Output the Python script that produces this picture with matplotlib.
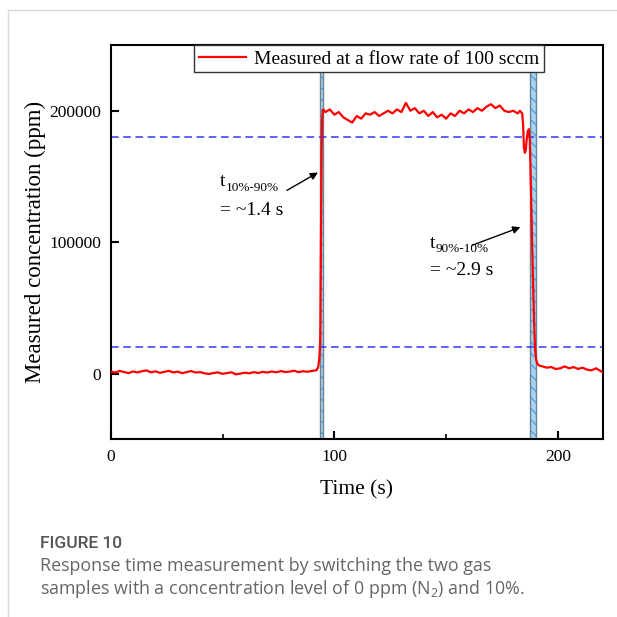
import matplotlib
matplotlib.use("Agg")
import matplotlib.pyplot as plt
from matplotlib.lines import Line2D
import numpy as np

# ---------------- data ----------------
base_t = [0, 2, 4, 6, 8, 10, 12, 14, 16, 18, 20, 22, 24, 26, 28, 30, 32, 34, 36, 38,
          40, 42, 44, 46, 48, 50, 52, 54, 56, 58, 60, 62, 64, 66, 68, 70, 72, 74, 76, 78,
          80, 82, 84, 86, 88, 90, 92]
base_c = [1500, 800, 2000, 1200, 400, 1600, 900, 1800, 2400, 1000, 1700, 600, 1300, 2100, 900,
          1500, 300, 1200, 1900, 800, 1100, 200, -300, 500, 900, -200, 400, 1000, -600, 0,
          700, 200, 1100, 500, 1300, 800, 1600, 1000, 1900, 1200, 1500, 2200, 1100, 1800,
          1400, 2000, 2500]
rise_t = [92.8, 93.3, 93.7, 94.0, 94.3, 94.6, 95.0]
rise_c = [5000, 12000, 25000, 100000, 170000, 195000, 201000]
plat_t = [96, 98, 100, 102, 104, 106, 108, 110, 112, 114, 116, 118, 120, 122, 124, 126, 128,
          130, 132, 134, 136, 138, 140, 142, 144, 146, 148, 150, 152, 154, 156, 158, 160,
          162, 164, 166, 168, 170, 172, 174, 176, 178, 180, 182, 183]
plat_c = [199000, 201000, 197000, 199000, 195000, 193000, 191000, 196000, 194000, 198000,
          197000, 199000, 196000, 198000, 200000, 198000, 201000, 199000, 206000, 200000,
          202000, 198000, 200000, 196000, 199000, 195000, 197000, 194000, 198000, 196000,
          200000, 198000, 201000, 199000, 202000, 200000, 203000, 205000, 202000, 204000,
          200000, 199000, 200000, 198000, 200000]
fall_t = [184.0, 184.4, 184.8, 185.2, 185.6, 186.0, 186.5, 187.0, 187.4, 187.8, 188.2, 188.6,
          189.0, 189.4, 189.8, 190.3, 191.0, 191.8]
fall_c = [198000, 190000, 172000, 168000, 170000, 178000, 184000, 186000, 178000, 150000,
          118000, 88000, 60000, 35000, 18000, 10000, 7000, 6000]
tail_t = [193, 195, 197, 199, 201, 203, 205, 207, 209, 211, 213, 215, 217, 219, 220]
tail_c = [5500, 4500, 5000, 3500, 4000, 5500, 4000, 5000, 3500, 4500, 3000, 2500, 4000, 2000, 1000]

thresholds = [180000, 20000]
spans = [(93.4, 94.8), (187.3, 190.2)]
x_ticks = [0, 100, 200]
y_ticks = [0, 100000, 200000]
legend_label = "Measured at a flow rate of 100 sccm"

time = base_t + rise_t + plat_t + fall_t + tail_t
conc = base_c + rise_c + plat_c + fall_c + tail_c

# ---------------- figure ----------------
serif = ["Liberation Serif", "DejaVu Serif"]
plt.rcParams["font.family"] = serif
plt.rcParams["hatch.linewidth"] = 0.8
plt.rcParams["hatch.color"] = "#3a9ae8"

fig = plt.figure(figsize=(6.17, 6.17), dpi=100)
ax = fig.add_axes([0.1794, 0.288, 0.7974, 0.639])

for (a, b) in spans:
    ax.axvspan(a, b, facecolor="#a9d4ef", edgecolor="#3a9ae8", hatch="\\\\\\", lw=0, zorder=1)
    ax.axvspan(a, b, facecolor="none", edgecolor="#6f8290", lw=1.0, zorder=1.5)

for th in thresholds:
    ax.axhline(th, color="#3535ff", lw=1.1, dashes=(5, 3), zorder=2)

ax.plot(time, conc, color="#ff0000", lw=1.6, zorder=3, label=legend_label)

ax.set_xlim(0, 220)
ax.set_ylim(-50000, 250000)
ax.set_xticks(x_ticks)
ax.set_xticks([50, 150], minor=True)
ax.set_yticks(y_ticks)
ax.tick_params(axis="both", which="major", direction="in", length=6, width=1.5,
               labelsize=12.5, pad=7)
ax.tick_params(axis="x", which="minor", direction="in", length=3.5, width=1.2)
for s in ax.spines.values():
    s.set_linewidth(1.5)

ax.set_xlabel("Time (s)", fontsize=15.5, labelpad=11)
ax.set_ylabel("Measured concentration (ppm)", fontsize=16.5, labelpad=2)

leg = ax.legend(loc="upper center", bbox_to_anchor=(0.525, 1.0), borderaxespad=0,
                fontsize=14, handlelength=2.4, handletextpad=0.4, borderpad=0.25,
                fancybox=False, framealpha=1, edgecolor="#333333")
leg.get_frame().set_linewidth(1.0)

# annotations
ax.text(49, 146000, "t", fontsize=14, va="center", ha="left")
ax.text(51.6, 141500, "10%-90%", fontsize=9.5, va="center", ha="left")
ax.text(49, 124000, "= ~1.4 s", fontsize=14, va="center", ha="left")
ax.annotate("", xy=(92.7, 153000), xytext=(78.8, 139400),
            arrowprops=dict(arrowstyle="-|>", color="black", lw=1.0, mutation_scale=11,
                            shrinkA=0, shrinkB=0))
ax.text(142.8, 99000, "t", fontsize=14, va="center", ha="left")
ax.text(145.4, 94500, "90%-10%", fontsize=9.5, va="center", ha="left")
ax.text(142.8, 78800, "= ~2.9 s", fontsize=14, va="center", ha="left")
ax.annotate("", xy=(183.2, 111400), xytext=(161.7, 97700),
            arrowprops=dict(arrowstyle="-|>", color="black", lw=1.0, mutation_scale=11,
                            shrinkA=0, shrinkB=0))

# card border
fig.add_artist(Line2D([8 / 617, 1.0], [1 - 10 / 617, 1 - 10 / 617], color="#d9d9d9", lw=1.0))
fig.add_artist(Line2D([8 / 617, 8 / 617], [0.0, 1 - 10 / 617], color="#d9d9d9", lw=1.0))

# caption
fig.text(40 / 617, 1 - 543 / 617, "FIGURE 10", fontsize=12.5, family=["Roboto", "DejaVu Sans"],
         fontweight="medium", color="#555555", va="center", ha="left")
sans = ["Open Sans", "DejaVu Sans"]
fig.text(40 / 617, 1 - 566 / 617, "Response time measurement by switching the two gas",
         fontsize=12.9, family=sans, color="#666666", va="center", ha="left")
fig.text(40 / 617, 1 - 589 / 617,
         r"samples with a concentration level of 0 ppm (N$_\mathregular{2}$) and 10%.",
         fontsize=12.9, family=sans, color="#666666", va="center", ha="left")

fig.savefig("out.png", dpi=100)
